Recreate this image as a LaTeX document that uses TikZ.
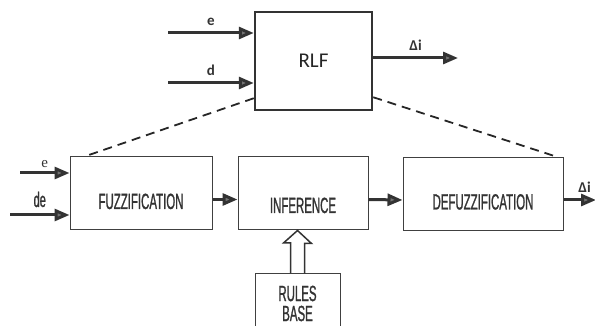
\documentclass[tikz,border=0pt]{standalone}
\usepackage{fontspec}
\usepackage{tikz}
\usetikzlibrary{arrows.meta}

\newfontfamily\narrowfont[FakeStretch=0.52, FakeBold=1]{Liberation Sans}
\newfontfamily\labelfont{Carlito}
\setmainfont{Liberation Serif}

\begin{document}
\begin{tikzpicture}[x=1pt, y=-1pt,
    block/.style={draw=black!75, line width=1pt, minimum height=73pt, text height=31pt, text depth=0pt, font=\narrowfont\fontsize{22}{22}\selectfont, align=center, text=black!80},
    flow/.style={line width=3pt, draw=black!80, -{Triangle[length=15pt, width=12pt, fill=black!55]}},
    link/.style={dashed, line width=1.8pt, dash pattern=on 9pt off 6pt, black!85},
    sig/.style={font=\labelfont\bfseries\fontsize{15}{16}\selectfont, black!80}
    ]

    \useasboundingbox (0, 0) rectangle (595, 326);
    \clip (0, 0) rectangle (595, 326);

    % RLF:
    \node[draw=black!80, line width=2.5pt, minimum width=117pt, minimum height=98pt, font=\labelfont\fontsize{21}{22}\selectfont, text=black!85] (RLF) at (313.5, 61) {RLF};

    % Fuzzification
    \node[block, minimum width=142pt] (Fuzzification) at (141, 193.5) {FUZZIFICATION};

    % Inference
    \node[block, minimum width=130pt, text height=39pt] (Inference) at (303, 193.5) {INFERENCE};

    % Defuzzification
    \node[block, minimum width=160pt] (Defuzzification) at (483, 194) {DEFUZZIFICATION};

    % Rules Base
    \node[draw=black!75, line width=1pt, minimum width=85pt, minimum height=60pt, anchor=north, font=\narrowfont\fontsize{22}{20}\selectfont, align=center, text=black!80] (Rules Base) at (297.5, 273) {RULES\\BASE};

    % Free ends
    \coordinate (e top) at (168, 33);
    \coordinate (d top) at (168, 83);
    \coordinate (di top) at (458, 58);
    \coordinate (e low) at (20, 173);
    \coordinate (de low) at (10, 215);
    \coordinate (di low) at (596, 200);

    % Connections
    \draw[flow] (e top) -- (RLF.west |- e top) node[sig, midway, above=3pt] {e};
    \draw[flow] (d top) -- (RLF.west |- d top) node[sig, midway, above=3pt] {d};
    \draw[flow] (RLF.east |- di top) -- (di top) node[sig, midway, above=3pt] {Δi};
    \draw[flow] (e low) -- (Fuzzification.west |- e low) node[midway, above=1pt, font=\fontsize{15}{16}\selectfont, black!80] {e};
    \draw[flow] (de low) -- (Fuzzification.west |- de low) node[midway, above=3pt, font=\narrowfont\fontsize{21}{20}\selectfont, black!80] {de};
    \draw[flow] ([yshift=-6pt]Fuzzification.east) -- ([yshift=-6pt]Inference.west);
    \draw[flow] ([yshift=-6pt]Inference.east) -- ([yshift=-6pt]Defuzzification.west);
    \draw[flow] ([yshift=-6pt]Defuzzification.east) -- ([yshift=-6pt]Defuzzification.east -| di low) node[sig, pos=0.65, above=3pt] {Δi};

    % Rules to inference (hollow arrow)
    \draw[line width=1.5pt, black!80, line join=miter] ([xshift=-7pt]Rules Base.north) -- ++(0, -30) -- ++(-7, 0) -- (Rules Base.north |- Inference.south) -- ++(14, 13) -- ++(-7, 0) -- ++(0, 30);

    % Dashed links
    \draw[link] ([yshift=13pt]RLF.south west) -- ([xshift=15pt]Fuzzification.north west);
    \draw[link] ([yshift=14pt]RLF.south east) -- ([xshift=-6pt]Defuzzification.north east);

\end{tikzpicture}
\end{document}
